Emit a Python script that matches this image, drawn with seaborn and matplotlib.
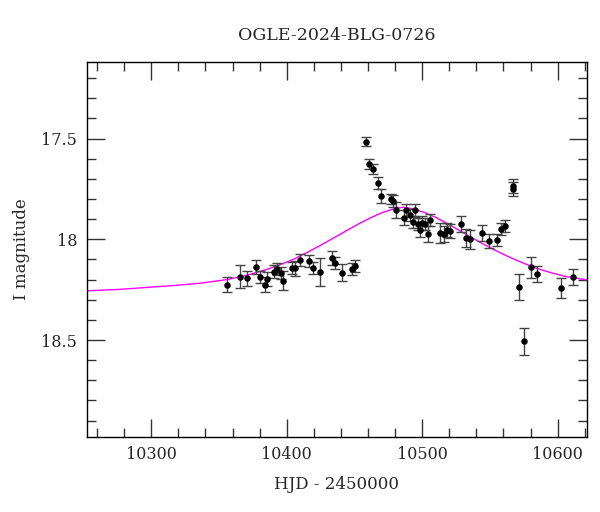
import matplotlib
matplotlib.use("Agg")
import matplotlib.pyplot as plt
import numpy as np
import pandas as pd
import seaborn as sns
from matplotlib.ticker import MultipleLocator, FuncFormatter

# observed OGLE photometry (HJD - 2450000, I mag, error)
hjd = [10356.0, 10365.8, 10370.8, 10377.6, 10380.6, 10383.7, 10385.5, 10390.7,
       10392.7, 10395.8, 10397.5, 10403.8, 10406.4, 10409.5, 10416.7, 10419.5,
       10424.7, 10433.3, 10435.5, 10440.5, 10448.4, 10450.4, 10458.5, 10460.6,
       10463.4, 10467.4, 10469.6, 10476.9, 10478.6, 10480.6, 10486.6, 10488.4,
       10490.8, 10492.9, 10494.7, 10496.7, 10498.3, 10500.2, 10502.0, 10504.2,
       10505.7, 10513.3, 10516.4, 10518.1, 10520.3, 10528.5, 10532.7, 10535.4,
       10544.5, 10549.2, 10555.3, 10558.0, 10561.0, 10567.1, 10567.3, 10571.3,
       10575.2, 10580.4, 10585.1, 10602.2, 10611.3]
mag = [18.226, 18.185, 18.193, 18.138, 18.188, 18.225, 18.195, 18.160,
       18.148, 18.168, 18.205, 18.143, 18.145, 18.102, 18.110, 18.142,
       18.162, 18.091, 18.118, 18.165, 18.148, 18.132, 17.516, 17.626,
       17.652, 17.720, 17.785, 17.800, 17.812, 17.853, 17.892, 17.857,
       17.878, 17.914, 17.857, 17.926, 17.953, 17.919, 17.924, 17.974,
       17.906, 17.969, 17.975, 17.953, 17.960, 17.924, 17.992, 18.001,
       17.971, 18.008, 18.002, 17.949, 17.933, 17.736, 17.749, 18.236,
       18.507, 18.140, 18.171, 18.243, 18.189]
err = [0.038, 0.055, 0.037, 0.033, 0.030, 0.037, 0.035, 0.030,
       0.030, 0.030, 0.047, 0.030, 0.035, 0.030, 0.030, 0.030,
       0.068, 0.035, 0.030, 0.040, 0.030, 0.030, 0.023, 0.025,
       0.025, 0.030, 0.035, 0.025, 0.030, 0.040, 0.035, 0.030,
       0.030, 0.030, 0.030, 0.030, 0.035, 0.035, 0.030, 0.040,
       0.030, 0.050, 0.040, 0.035, 0.035, 0.040, 0.045, 0.045,
       0.040, 0.035, 0.030, 0.030, 0.030, 0.035, 0.035, 0.065,
       0.065, 0.050, 0.040, 0.050, 0.040]

# model light curve
model_hjd = [10252, 10276, 10299, 10316, 10336, 10356, 10371, 10386,
             10396, 10406, 10416, 10426, 10436, 10446, 10454, 10462,
             10470, 10478, 10486, 10494, 10502, 10510, 10518, 10526,
             10536, 10546, 10556, 10566, 10576, 10586, 10596, 10606,
             10622]
model_mag = [18.256, 18.249, 18.238, 18.230, 18.218, 18.200, 18.178, 18.148,
             18.124, 18.096, 18.062, 18.026, 17.988, 17.950, 17.920, 17.893,
             17.869, 17.851, 17.841, 17.850, 17.868, 17.892, 17.920, 17.951,
             17.990, 18.027, 18.062, 18.094, 18.122, 18.148, 18.168, 18.185,
             18.202]

df = pd.DataFrame({"hjd": hjd, "mag": mag, "err": err})
model = pd.DataFrame({"hjd": model_hjd, "mag": model_mag})

sns.set_style("ticks")
plt.rcParams["font.family"] = ["DejaVu Serif"]
plt.rcParams["font.serif"] = ["DejaVu Serif"]

fig = plt.figure(figsize=(6.0, 5.12), dpi=100)
ax = fig.add_axes([0.145, 0.147, 0.833, 0.732])

sns.lineplot(data=model, x="hjd", y="mag", color="#ff00ff", linewidth=1.0,
             ax=ax, zorder=1, sort=True)
ax.errorbar(df["hjd"], df["mag"], yerr=df["err"], fmt="none", ecolor="#444444",
            elinewidth=1.0, capsize=3.5, capthick=1.0, zorder=2)
sns.scatterplot(data=df, x="hjd", y="mag", color="black", s=22, linewidth=0,
                ax=ax, zorder=3)

ax.set_xlim(10252.6, 10621.5)
ax.set_ylim(18.98, 17.12)

ax.xaxis.set_major_locator(MultipleLocator(100))
ax.xaxis.set_minor_locator(MultipleLocator(20))
ax.yaxis.set_major_locator(MultipleLocator(0.5))
ax.yaxis.set_minor_locator(MultipleLocator(0.1))
ax.yaxis.set_major_formatter(FuncFormatter(lambda v, p: "%g" % v))

ax.tick_params(which="both", direction="in", top=True, right=True,
               color="#333333", width=1.0, labelsize=11.5)
ax.tick_params(which="major", length=13, pad=7)
ax.tick_params(which="minor", length=6.5)
for s in ax.spines.values():
    s.set_color("black")
    s.set_linewidth(1.0)

ax.set_xticks([10300, 10400, 10500, 10600])
ax.set_xticklabels(["10300", "10400", "10500", "10600"],
                   family="DejaVu Serif", fontsize=11.5)
ax.set_yticks([17.5, 18.0, 18.5])
ax.set_yticklabels(["17.5", "18", "18.5"], family="DejaVu Serif", fontsize=11.5)
ax.set_xlim(10252.6, 10621.5)
ax.set_ylim(18.98, 17.12)

ax.set_xlabel("HJD - 2450000", fontsize=12, labelpad=9)
ax.set_ylabel("I magnitude", fontsize=12, labelpad=8)
ax.set_title("OGLE-2024-BLG-0726", fontsize=12.5, pad=16)

fig.savefig("out.png", dpi=100)
